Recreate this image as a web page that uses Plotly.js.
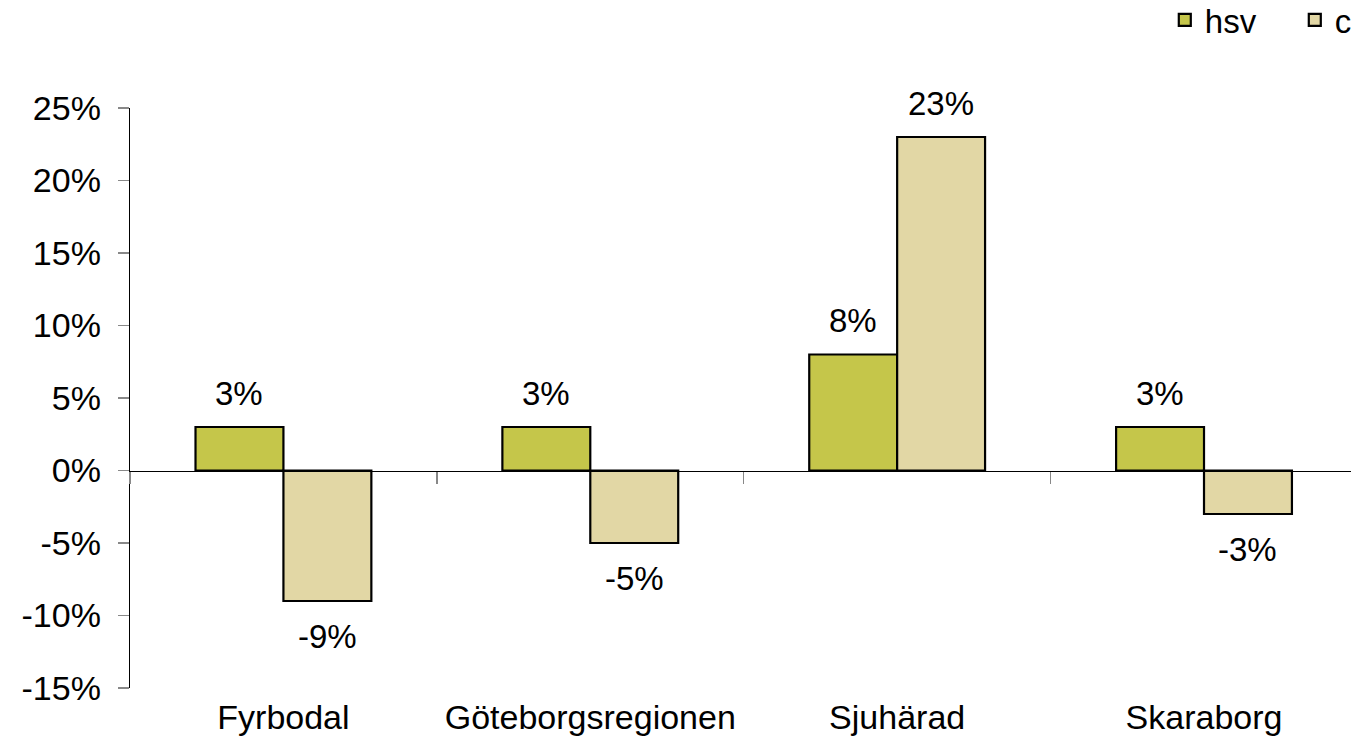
<!DOCTYPE html>
<html>
<head>
<meta charset="utf-8">
<script src="https://cdn.plot.ly/plotly-3.0.1.min.js"></script>
<style>html,body{margin:0;padding:0;overflow:hidden;background:#fff}#chart{width:1351px;height:738px}</style>
</head>
<body>
<div id="chart"></div>
<script>
const categories = ["Fyrbodal", "Göteborgsregionen", "Sjuhärad", "Skaraborg"];
const hsvValues = [0.03, 0.03, 0.08, 0.03];
const cValues = [-0.09, -0.05, 0.23, -0.03];
const seriesNames = ["hsv", "c"];
const yTickVals = [-0.15, -0.10, -0.05, 0, 0.05, 0.10, 0.15, 0.20, 0.25];
const yTickText = ["-15%", "-10%", "-5%", "0%", "5%", "10%", "15%", "20%", "25%"];

const FONT = "Liberation Sans, Arial, sans-serif";
const FS = 34;
const bargap = 0.427;
const half = (1 - bargap) / 4;

const traces = [
  {type: "bar", name: seriesNames[0], x: categories, y: hsvValues,
   marker: {color: "#C5C64A", line: {color: "#000", width: 2.2}}, hoverinfo: "none"},
  {type: "bar", name: seriesNames[1], x: categories, y: cValues,
   marker: {color: "#E2D7A5", line: {color: "#000", width: 2.2}}, hoverinfo: "none"}
];

const fmt = v => Math.round(v * 100) + "%";
const annotations = [];
[hsvValues, cValues].forEach((vals, s) => {
  vals.forEach((v, i) => {
    annotations.push({
      x: i + (s === 0 ? -half : half), y: v, xref: "x", yref: "y",
      text: fmt(v), showarrow: false,
      yshift: v >= 0 ? 34 : -35,
      font: {family: FONT, size: FS - 1, color: "#000"}
    });
  });
});

const layout = {
  width: 1351, height: 738,
  margin: {l: 129.5, r: 0, t: 108, b: 50, autoexpand: false},
  paper_bgcolor: "#fff", plot_bgcolor: "#fff",
  font: {family: FONT, size: FS, color: "#000"},
  barmode: "group", bargap: bargap, bargroupgap: 0,
  showlegend: true,
  legend: {orientation: "h", x: 0.8475, xanchor: "left", y: 1.2, yanchor: "top",
           font: {family: FONT, size: FS - 1, color: "#000"}, entrywidth: 85, traceorder: "normal"},
  xaxis: {
    type: "category",
    range: [-0.5, 3.479],
    anchor: "free", position: 0.375,
    showline: true, linecolor: "#000", linewidth: 1.3,
    ticks: "outside", tickson: "boundaries", ticklen: 12, tickcolor: "#888", tickwidth: 1.3,
    ticklabelstandoff: 216,
    showgrid: false, zeroline: false,
    tickfont: {family: FONT, size: FS, color: "#000"}
  },
  yaxis: {
    range: [-0.15, 0.25], tickmode: "array", tickvals: yTickVals, ticktext: yTickText,
    showline: true, linecolor: "#000", linewidth: 1.3,
    ticks: "outside", ticklen: 11, tickcolor: "#888", tickwidth: 1.3,
    ticklabelstandoff: 10,
    showgrid: false, zeroline: false,
    tickfont: {family: FONT, size: FS, color: "#000"}
  },
  annotations: annotations
};

Plotly.newPlot("chart", traces, layout, {displayModeBar: false, staticPlot: true});
</script>
</body>
</html>
